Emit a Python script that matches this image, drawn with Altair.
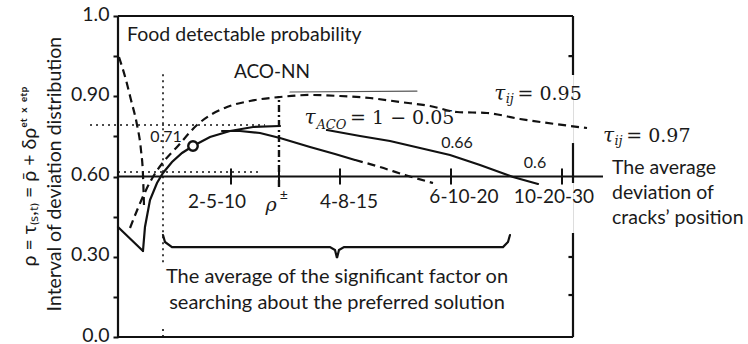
import altair as alt
import pandas as pd

# ---------------- values ----------------
# x: horizontal position in axis units (0..10 across the frame)
# y: vertical position in internal units (0..4 across the frame; 2 = the horizontal axis)
y_tick_values = [0, 1, 2, 3, 4]
y_tick_labels = ["0.0", "0.30", "0.60", "0.90", "1.0"]
y_minor_ticks = [0.5, 1.5, 2.5, 3.5]

x_tick_positions = [2.484, 3.538, 4.879, 7.319, 9.758]
x_tick_labels = ["2-5-10", "ρ±", "4-8-15", "6-10-20", "10-20-30"]
x_label_x = [2.176, 3.495, 5.077, 7.604, 9.582]
x_label_y = [1.68, 1.68, 1.68, 1.74, 1.74]

steep_dash_x = [0.022, 0.176, 0.286, 0.418, 0.505, 0.549, 0.571]
steep_dash_y = [3.489, 3.202, 2.953, 2.642, 2.330, 2.019, 1.645]

upper_dash_x = [0.264, 0.440, 0.637, 0.835, 1.033, 1.297, 1.736, 2.396, 2.901, 3.560,
                4.220, 4.879, 5.538, 6.198, 6.857, 7.451, 8.110, 8.835, 9.604, 10.308]
upper_dash_y = [1.358, 1.607, 1.857, 2.056, 2.206, 2.368, 2.642, 2.866, 2.941, 2.991,
                3.016, 3.003, 2.978, 2.928, 2.879, 2.804, 2.791, 2.717, 2.654, 2.604]

v_solid_x = [0.0, 0.549]
v_solid_y = [1.371, 1.072]

main_solid_x = [0.549, 0.593, 0.703, 0.857, 0.989, 1.187, 1.407, 1.648, 2.022, 2.462, 2.967, 3.560]
main_solid_y = [1.072, 1.371, 1.707, 1.919, 2.044, 2.181, 2.293, 2.380, 2.492, 2.567, 2.617, 2.629]

lower_solid_x = [2.286, 2.681, 3.121, 3.560, 4.220, 4.769, 5.209]
lower_solid_y = [2.567, 2.567, 2.542, 2.480, 2.368, 2.280, 2.206]

lower_dash_x = [5.209, 5.758, 6.308, 6.923]
lower_dash_y = [2.206, 2.118, 2.019, 1.919]

aco_solid_x = [4.593, 5.319, 5.978, 6.637, 7.297, 7.956, 8.681, 9.231]
aco_solid_y = [2.579, 2.505, 2.442, 2.355, 2.268, 2.143, 1.994, 1.907]

thin_x = [3.780, 6.571]
thin_y = [3.053, 3.065]

bracket_x = [0.989, 1.033, 1.187, 4.659, 4.769, 4.813, 4.857, 4.967, 8.462, 8.571, 8.615]
bracket_y = [1.271, 1.184, 1.121, 1.121, 1.084, 0.984, 1.084, 1.121, 1.121, 1.184, 1.271]

marker_x = [1.648]
marker_y = [2.380]

# ---------------- helpers ----------------
X = alt.Scale(domain=[0, 10], nice=False, zero=False)
Y = alt.Scale(domain=[0, 4], nice=False, zero=False)
INK = "#111111"
SANS = "Lato"
SERIF = "DejaVu Serif"


def line_df(xs, ys, name):
    return pd.DataFrame({"x": xs, "y": ys, "s": name, "i": list(range(len(xs)))})


def lines(frames, dash=None, width=2.2, color=INK, interp="monotone"):
    df = pd.concat(frames, ignore_index=True)
    kw = dict(color=color, strokeWidth=width, interpolate=interp, strokeCap="round")
    if dash:
        kw["strokeDash"] = dash
        kw["strokeCap"] = "butt"
    return alt.Chart(df).mark_line(**kw).encode(
        x=alt.X("x:Q", scale=X, axis=None),
        y=alt.Y("y:Q", scale=Y),
        detail="s:N",
        order="i:Q",
    )


def rules(rows, dash=None, width=2.0):
    df = pd.DataFrame(rows, columns=["x", "x2", "y", "y2"])
    kw = dict(color=INK, strokeWidth=width)
    if dash:
        kw["strokeDash"] = dash
    return alt.Chart(df).mark_rule(**kw).encode(
        x=alt.X("x:Q", scale=X, axis=None), x2="x2:Q",
        y=alt.Y("y:Q", scale=Y), y2="y2:Q",
    )


def texts(rows, size=18, font=SANS, align="center", style="normal", angle=0, baseline="middle"):
    df = pd.DataFrame(rows, columns=["x", "y", "t"])
    kw = dict(font=font, fontSize=size, align=align, baseline=baseline, color="#1a1a1a",
              fontStyle=style)
    if angle:
        kw["angle"] = angle
    return alt.Chart(df).mark_text(**kw).encode(
        x=alt.X("x:Q", scale=X, axis=None),
        y=alt.Y("y:Q", scale=Y),
        text="t:N",
    )


label_expr = " : ".join(
    f"datum.value == {v} ? '{l}'" for v, l in zip(y_tick_values, y_tick_labels)
) + " : ''"

# y axis (ticks and labels only) carried by an invisible layer
axis_df = pd.DataFrame({"x": [0, 0], "y": [0, 4]})
axis_layer = alt.Chart(axis_df).mark_point(opacity=0).encode(
    x=alt.X("x:Q", scale=X, axis=None),
    y=alt.Y("y:Q", scale=Y, axis=alt.Axis(
        values=sorted(y_tick_values + y_minor_ticks), labelExpr=label_expr, title=None,
        domain=False, grid=False, ticks=True, tickSize=5, tickWidth=2, tickColor=INK,
        labelFont=SANS, labelFontSize=19.5, labelColor="#1a1a1a", labelPadding=4,
        labelOffset=-2, labelBound=False, labelOverlap=False,
    )),
)

# frame (right side is broken by labels)
frame = rules([
    [0, 10, 4, 4], [0, 10, 0, 0], [0, 0, 0, 4],
    [10, 10, 3.265, 4], [10, 10, 1.919, 2.417], [10, 10, 0, 1.296],
    [9.9, 10, 3.5, 3.5], [9.9, 10, 0.997, 0.997], [9.9, 10, 0.523, 0.523],
], width=2.2)

# horizontal axis of average deviation and its ticks
haxis = rules([[0, 10.659, 2.0, 2.0]], width=2.2)
hticks = rules([[t, t, 1.9, 2.1] for t in x_tick_positions], width=2.0)

dotted = rules([
    [-0.615, 3.231, 2.642, 2.642],
    [0, 3.077, 2.056, 2.056],
    [0.989, 0.989, 0.93, 3.29],
    [0.989, 0.989, 0.0, 0.12],
], dash=[2, 4], width=1.6)
dashdot = rules([[3.538, 3.538, 1.869, 3.003]], dash=[7, 3, 2, 3], width=2.4)

solid = lines([
    line_df(v_solid_x, v_solid_y, "v"),
    line_df(main_solid_x, main_solid_y, "main"),
    line_df(lower_solid_x, lower_solid_y, "lower"),
    line_df(aco_solid_x, aco_solid_y, "aco"),
], interp="linear")
dashed = lines([
    line_df(steep_dash_x, steep_dash_y, "steep"),
    line_df(upper_dash_x, upper_dash_y, "upper"),
    line_df(lower_dash_x, lower_dash_y, "lowerd"),
], dash=[8, 5], width=2.2)
thin = lines([line_df(thin_x, thin_y, "thin")], width=1.2, color="#555555", interp="linear")
bracket = lines([line_df(bracket_x, bracket_y, "br")], width=2.2, interp="linear")

marker = alt.Chart(pd.DataFrame({"x": marker_x, "y": marker_y})).mark_point(
    shape="circle", size=90, filled=True, fill="white", stroke=INK, strokeWidth=2.4, opacity=1
).encode(x=alt.X("x:Q", scale=X, axis=None), y=alt.Y("y:Q", scale=Y))

# x tick labels: plain ones in sans; the rho label as italic rho with raised ±
plain_rows = [[a, b, t] for a, b, t in zip(x_label_x, x_label_y, x_tick_labels) if t != "ρ±"]
xlabels = texts(plain_rows, size=19)
rho_i = x_tick_labels.index("ρ±")
rho_lbl = texts([[x_label_x[rho_i] - 0.13, x_label_y[rho_i] - 0.04, "ρ"]],
                size=19, font=SERIF, style="italic")
pm_lbl = texts([[x_label_x[rho_i] + 0.15, x_label_y[rho_i] + 0.08, "±"]], size=14)

main_txt = texts([
    [0.198, 3.763, "Food detectable probability"],
], size=19.5, align="left")
aco_nn = texts([[3.385, 3.302, "ACO-NN"]], size=19)
bracket_txt = texts([
    [4.813, 0.748, "The average of the significant factor on"],
    [4.813, 0.424, "searching about the preferred solution"],
], size=20)
right_txt = texts([
    [10.857, 2.106, "The average"],
    [10.857, 1.794, "deviation of"],
    [10.857, 1.483, "cracks’ position"],
], size=19.5, align="left")
small_nums = texts([
    [1.055, 2.492, "0.71"],
    [7.451, 2.417, "0.66"],
    [9.165, 2.168, "0.6"],
], size=16)

# tau labels (serif, italic tau with subscripts)
tau_main = texts([
    [8.27, 3.03, "τ"],
    [10.66, 2.51, "τ"],
    [4.10, 2.73, "τ"],
], size=20, font=SERIF, align="left", style="italic")
tau_sub = texts([
    [8.52, 2.965, "ij"],
    [10.91, 2.445, "ij"],
    [4.36, 2.64, "ACO"],
], size=13, font=SERIF, align="left", style="italic")
tau_rest = texts([
    [8.78, 3.03, "= 0.95"],
    [11.17, 2.51, "= 0.97"],
    [5.10, 2.73, "= 1 − 0.05"],
], size=19, font=SERIF, align="left")

ytitle = texts([
    [-1.934, 2.0, "ρ = τ₍ₛ,ₜ₎ = ρ̄ + δρᵉᵗ ˣ ᵉᵗᵖ"],
    [-1.385, 2.03, "Interval of deviation distribution"],
], size=19.5, angle=270)

chart = alt.layer(
    axis_layer, dotted, dashdot, frame, haxis, hticks, thin, solid, dashed, bracket, marker,
    xlabels, rho_lbl, pm_lbl, main_txt, aco_nn, bracket_txt, right_txt, small_nums,
    tau_main, tau_sub, tau_rest, ytitle,
).properties(
    width=455, height=321,
    padding={"left": 118, "top": 16, "right": 175, "bottom": 7},
    autosize="none",
).configure_view(stroke=None).configure(background="white")

chart.save("out.html", embed_options={"renderer": "svg", "actions": False})
